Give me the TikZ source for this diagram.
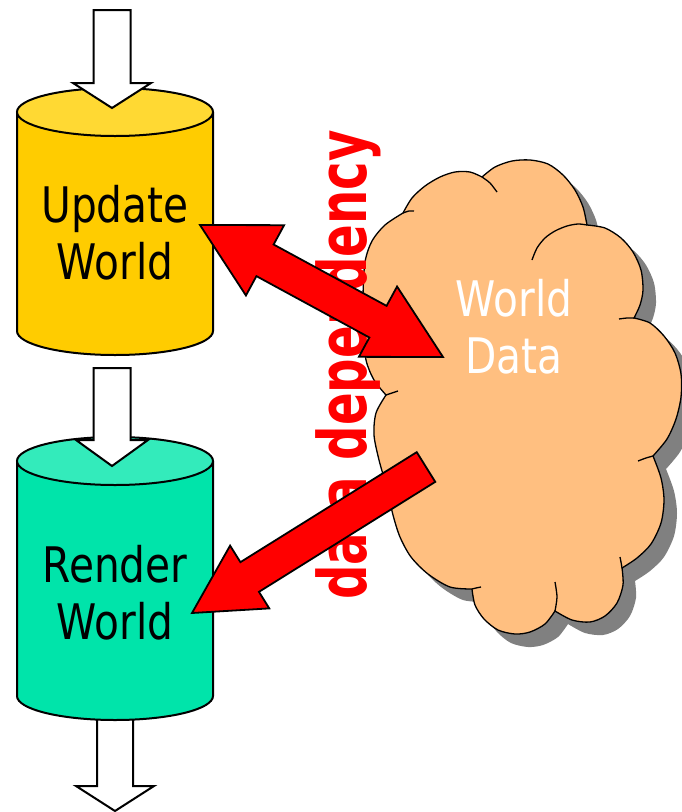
\documentclass[tikz,border=0pt]{standalone}
\usepackage{fontspec}
\usepackage{tikz}
\usetikzlibrary{calc}
\usepackage{xcolor}

\newfontfamily\tahomalike[FakeStretch=0.83]{DejaVu Sans}
\newfontfamily\depfont[FakeStretch=0.72]{DejaVu Sans}

\definecolor{updside}{HTML}{FFCC00}
\definecolor{updtop}{HTML}{FFD933}
\definecolor{rndside}{HTML}{00E4AA}
\definecolor{rndtop}{HTML}{33EBBB}
\definecolor{cloudfill}{HTML}{FFBF80}
\definecolor{cloudshadow}{HTML}{808080}

\newcommand{\worldcloud}{
plot[smooth] coordinates {(403,213) (412,198) (425,186) (440,177) (455,172) (470,172) (482,177)}
-- plot[smooth] coordinates {(482,177) (495,167) (512,161) (530,160) (548,164) (563,175) (575,190) (583,207) (587,225)}
-- plot[smooth] coordinates {(587,225) (605,228) (621,238) (633,252) (641,270) (643,290) (640,305) (634,318)}
-- plot[smooth] coordinates {(634,318) (650,323) (664,336) (675,353) (681,374) (681,397) (676,419) (667,439) (653,456)}
-- plot[smooth] coordinates {(653,456) (661,478) (664,500) (661,523) (651,544) (637,558) (622,568)}
-- plot[smooth] coordinates {(622,568) (623,585) (617,603) (605,616) (590,622) (572,620) (555,611)}
-- plot[smooth] coordinates {(555,611) (545,624) (530,632) (515,634) (498,630) (484,619) (475,605) (472,589)}
-- plot[smooth] coordinates {(472,589) (450,587) (428,574) (411,557) (400,537) (393,515) (386,485) (379,460) (374,435) (376,413) (386,395)}
-- plot[smooth] coordinates {(386,395) (374,380) (366,360) (363,330) (363,295) (365,262) (372,241) (385,225) (403,213)}
-- cycle}

\begin{document}
\begin{tikzpicture}[
x=1pt, y=-1pt,
label text/.style={font=\tahomalike\fontsize{49}{57}\selectfont,
align=center, inner sep=0pt},
cyl line/.style={draw=black, line width=2pt},
block arrow/.style n args={3}{to path={
($(\tikztostart)!#1!90:(\tikztotarget)$)
-- ($($(\tikztotarget)!#3!(\tikztostart)$)!#1!90:(\tikztotarget)$)
-- ($($(\tikztotarget)!#3!(\tikztostart)$)!#2!90:(\tikztotarget)$)
-- (\tikztotarget)
-- ($($(\tikztotarget)!#3!(\tikztostart)$)!#2!-90:(\tikztotarget)$)
-- ($($(\tikztotarget)!#3!(\tikztostart)$)!#1!-90:(\tikztotarget)$)
-- ($(\tikztostart)!#1!-90:(\tikztotarget)$)
-- cycle}},
double block/.style n args={3}{to path={
(\tikztostart)
-- ($($(\tikztostart)!#3!(\tikztotarget)$)!#2!90:(\tikztotarget)$)
-- ($($(\tikztostart)!#3!(\tikztotarget)$)!#1!90:(\tikztotarget)$)
-- ($($(\tikztotarget)!#3!(\tikztostart)$)!#1!90:(\tikztotarget)$)
-- ($($(\tikztotarget)!#3!(\tikztostart)$)!#2!90:(\tikztotarget)$)
-- (\tikztotarget)
-- ($($(\tikztotarget)!#3!(\tikztostart)$)!#2!-90:(\tikztotarget)$)
-- ($($(\tikztotarget)!#3!(\tikztostart)$)!#1!-90:(\tikztotarget)$)
-- ($($(\tikztostart)!#3!(\tikztotarget)$)!#1!-90:(\tikztotarget)$)
-- ($($(\tikztostart)!#3!(\tikztotarget)$)!#2!-90:(\tikztotarget)$)
-- cycle}},
hollow/.style={fill=white, draw=black, line width=2pt},
flow/.style={fill=red, draw=black, line width=1.8pt}
]

\useasboundingbox (0,0) rectangle (682,812);

\coordinate (feedin) at (112,10);
\coordinate (updtip) at (112,108);
\coordinate (updout) at (112,368);
\coordinate (rndtip) at (112,466);
\coordinate (rndout) at (115,700);
\coordinate (feedout) at (115,811);
\coordinate (updport) at (200,225);
\coordinate (cloudport) at (443,357);
\coordinate (cloudexit) at (426,467);
\coordinate (rndport) at (192,613);

% cylinders
\filldraw[cyl line, fill=updside] (17,112) -- (17,331)
arc[start angle=180, end angle=360, x radius=98pt, y radius=24pt] -- (213,112);
\filldraw[cyl line, fill=updtop] (115,112) ellipse[x radius=98pt, y radius=24pt];

\draw[hollow, block arrow={18pt}{39pt}{25pt}] (rndout) to (feedout);

\filldraw[cyl line, fill=rndside] (17,461) -- (17,696)
arc[start angle=180, end angle=360, x radius=98pt, y radius=24pt] -- (213,461);
\filldraw[cyl line, fill=rndtop] (115,461) ellipse[x radius=98pt, y radius=24pt];

\draw[hollow, block arrow={18.5pt}{39pt}{25pt}] (feedin) to (updtip);
\draw[hollow, block arrow={18.5pt}{36pt}{26pt}] (updout) to (rndtip);

\node[label text] (update) at (115,233) {Update\\World};
\node[label text] (render) at (115,593) {Render\\World};

% cloud
\fill[cloudshadow, shift={(13,13)}] \worldcloud;
\filldraw[fill=cloudfill, draw=black, line width=1.3pt] \worldcloud;
\begin{scope}[line width=1.3pt]
\draw plot[smooth] coordinates {(403,213) (409,211) (414,211)};
\draw plot[smooth] coordinates {(482,177) (490,183) (497,192)};
\draw plot[smooth] coordinates {(532,260) (537,248) (545,238) (555,231) (567,226) (578,224) (587,225)};
\draw plot[smooth] coordinates {(619,319) (627,318) (634,318)};
\draw plot[smooth] coordinates {(653,456) (646,458) (638,461)};
\draw plot[smooth] coordinates {(622,568) (621,562) (620,557)};
\draw plot[smooth] coordinates {(555,611) (557,597) (555,582)};
\draw plot[smooth] coordinates {(472,589) (476,588) (481,587)};
\draw plot[smooth] coordinates {(386,395) (392,393) (398,391)};
\end{scope}

\node[label text, text=white] (worlddata) at (514,327) {World\\Data};

\node[font=\depfont\bfseries\fontsize{67}{67}\selectfont, text=red,
rotate=90, inner sep=0pt] (dep) at (348,365) {data dependency};

\draw[flow, double block={18pt}{40pt}{74pt}] (updport) to (cloudport);
\draw[flow, block arrow={17.5pt}{37pt}{68pt}] (cloudexit) to (rndport);

\end{tikzpicture}
\end{document}
